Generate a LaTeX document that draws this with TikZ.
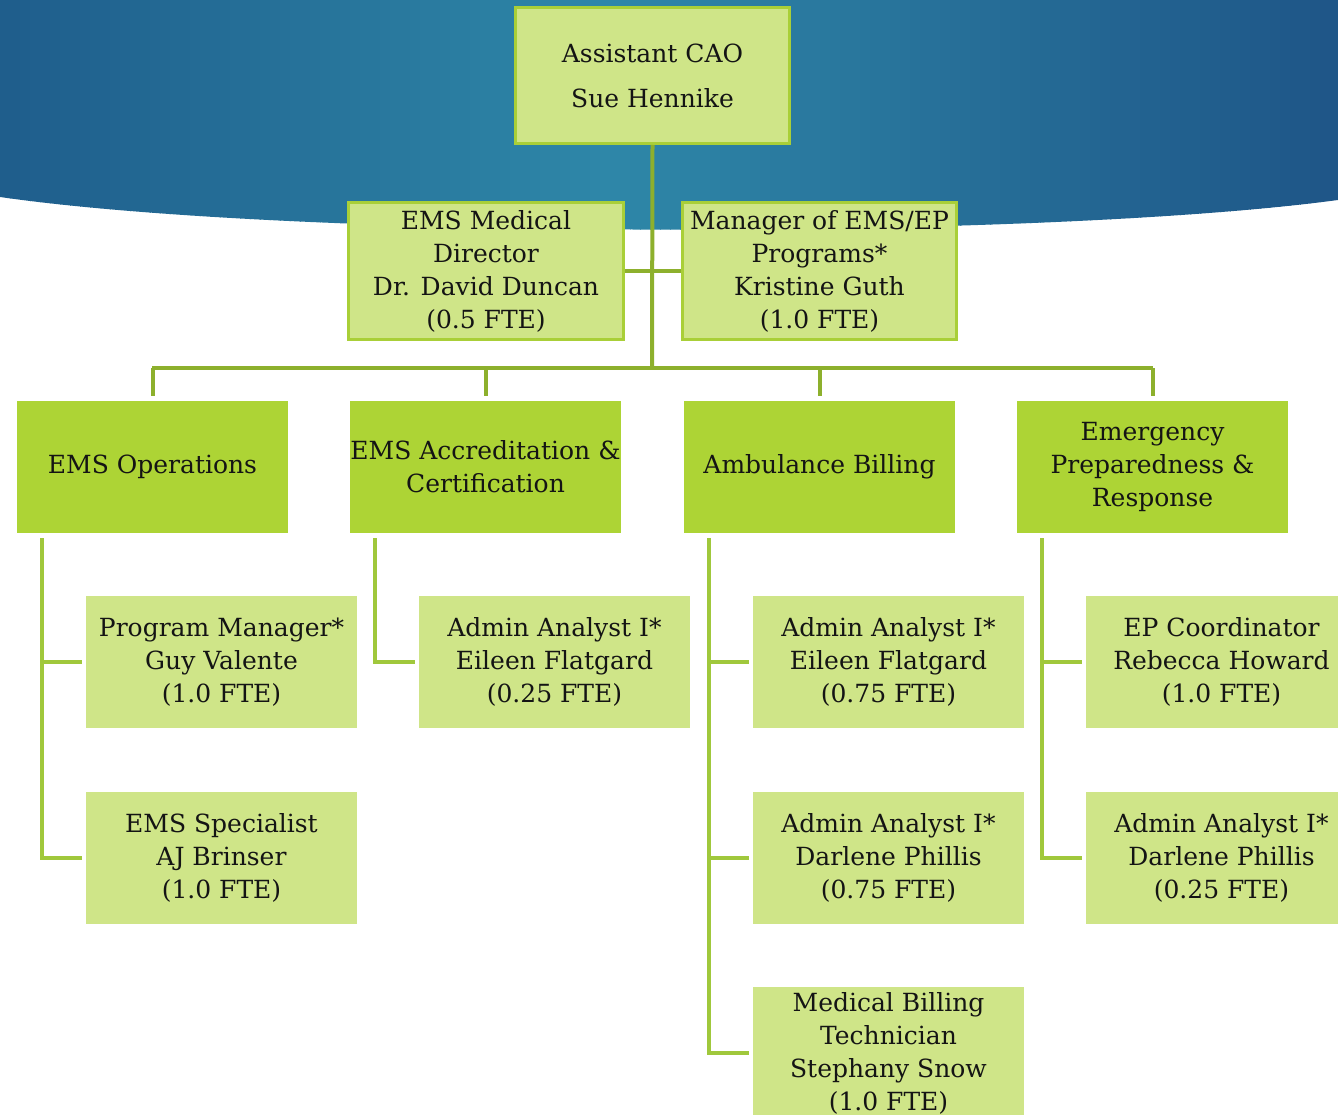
\documentclass[tikz,border=0pt]{standalone}
\usepackage{fontspec}
\setmainfont{DejaVu Serif}
\definecolor{lgreen}{HTML}{CFE588}
\definecolor{dgreen}{HTML}{ADD435}
\definecolor{bgreen}{HTML}{A9CF38}
\definecolor{olive}{HTML}{8DB02D}
\definecolor{subline}{HTML}{A0C83C}
\definecolor{blueA}{HTML}{1F5E8C}
\definecolor{blueB}{HTML}{2E87A8}
\definecolor{blueC}{HTML}{1E5587}
\definecolor{txt}{HTML}{141414}
\begin{document}
\begin{tikzpicture}[x=1pt,y=-1pt,
  basebox/.style={rectangle, inner sep=0pt, align=center, text=txt,
    font=\fontsize{25}{33}\selectfont},
  topbox/.style={basebox, fill=lgreen, draw=bgreen, line width=3pt},
  midbox/.style={basebox, fill=dgreen, minimum width=271pt, minimum height=132pt},
  subbox/.style={basebox, fill=lgreen, minimum width=271pt, minimum height=132pt},
  mainline/.style={draw=olive, line width=4pt},
  branch/.style={draw=subline, line width=3.5pt}]
\useasboundingbox (0,0) rectangle (1338,1115);
\clip (0,0) rectangle (1338,1115);
% background band
\begin{scope}
\clip (0,0) -- (1338,0) -- (1338,200) .. controls (1040,240) and (300,240) .. (0,197) -- cycle;
\foreach \i in {0,...,133}{
  \pgfmathsetmacro{\xx}{\i*10}
  \ifnum\i<60
    \pgfmathtruncatemacro{\pa}{\xx/6}
    \fill[blueB!\pa!blueA] (\xx,0) rectangle (\xx+11,260);
  \else
    \pgfmathtruncatemacro{\pb}{(\xx-600)/7.38}
    \fill[blueC!\pb!blueB] (\xx,0) rectangle (\xx+11,260);
  \fi
}
\end{scope}
% nodes
\node[topbox, minimum width=274pt, minimum height=136pt,
  font=\fontsize{25}{45}\selectfont] (cao) at (652.5,75.5) {Assistant CAO\\Sue Hennike};
\node[topbox, minimum width=275pt, minimum height=137pt] (med) at (486,271)
  {EMS Medical\\Director\\Dr. David Duncan\\(0.5 FTE)};
\node[topbox, minimum width=274pt, minimum height=137pt] (mgr) at (819.5,271)
  {Manager of EMS/EP\\Programs*\\Kristine Guth\\(1.0 FTE)};
\node[midbox] (ops) at (152.5,467) {EMS Operations};
\node[midbox] (acc) at (485.5,467) {EMS Accreditation \&\\Certification};
\node[midbox] (bil) at (819.5,467) {Ambulance Billing};
\node[midbox] (epr) at (1152.5,467) {Emergency\\Preparedness \&\\Response};
\node[subbox] (pm) at (221.5,662) {Program Manager*\\Guy Valente\\(1.0 FTE)};
\node[subbox] (sp) at (221.5,858) {EMS Specialist\\AJ Brinser\\(1.0 FTE)};
\node[subbox] (aa1) at (554.5,662) {Admin Analyst I*\\Eileen Flatgard\\(0.25 FTE)};
\node[subbox] (aa2) at (888.5,662) {Admin Analyst I*\\Eileen Flatgard\\(0.75 FTE)};
\node[subbox] (aa3) at (888.5,858) {Admin Analyst I*\\Darlene Phillis\\(0.75 FTE)};
\node[subbox] (mbt) at (888.5,1053) {Medical Billing\\Technician\\Stephany Snow\\(1.0 FTE)};
\node[subbox] (epc) at (1221.5,662) {EP Coordinator\\Rebecca Howard\\(1.0 FTE)};
\node[subbox] (aa4) at (1221.5,858) {Admin Analyst I*\\Darlene Phillis\\(0.25 FTE)};
% main connectors
\coordinate (bus) at (652,368);
\draw[mainline] (cao.south) -- (bus);
\draw[mainline] (med.east) -- (mgr.west);
\draw[mainline] (152,368) -- (1153,368);
\foreach \n in {ops,acc,bil,epr}{
  \draw[mainline] (\n.north |- bus) -- ([yshift=5pt]\n.north);
}
% sub connectors
\coordinate (t1) at ([xshift=25pt,yshift=-5pt]ops.south west);
\coordinate (t2) at ([xshift=25pt,yshift=-5pt]acc.south west);
\coordinate (t3) at ([xshift=25pt,yshift=-5pt]bil.south west);
\coordinate (t4) at ([xshift=25pt,yshift=-5pt]epr.south west);
\draw[branch] (t1) |- ([xshift=-4pt]sp.west);
\draw[branch] (t1 |- pm.west) -- ([xshift=-4pt]pm.west);
\draw[branch] (t2) |- ([xshift=-4pt]aa1.west);
\draw[branch] (t3) |- ([xshift=-4pt]mbt.west);
\draw[branch] (t3 |- aa2.west) -- ([xshift=-4pt]aa2.west);
\draw[branch] (t3 |- aa3.west) -- ([xshift=-4pt]aa3.west);
\draw[branch] (t4) |- ([xshift=-4pt]aa4.west);
\draw[branch] (t4 |- epc.west) -- ([xshift=-4pt]epc.west);
\end{tikzpicture}
\end{document}
